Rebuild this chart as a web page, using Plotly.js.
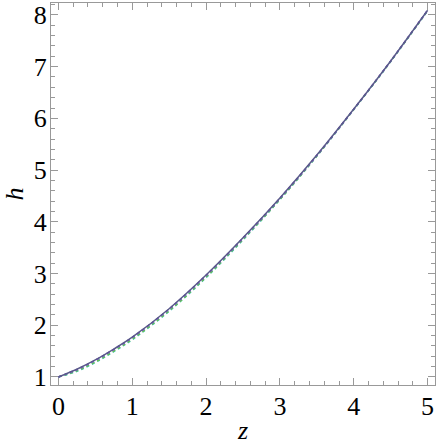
<!DOCTYPE html>
<html>
<head>
<meta charset="utf-8">
<script src="https://cdn.plot.ly/plotly-3.0.1.min.js"></script>
<style>body{margin:0;padding:0;background:#fff;} #chart{width:436px;height:445px;}</style>
</head>
<body>
<div id="chart"></div>
<script>
const zValues = [0, 0.25, 0.5, 0.75, 1, 1.5, 2, 2.5, 3, 3.5, 4, 4.5, 5];
const hSolid  = [1.00, 1.15, 1.33, 1.54, 1.77, 2.32, 2.97, 3.69, 4.46, 5.29, 6.18, 7.11, 8.09];
const hPurple = [1.00, 1.145,1.325,1.535,1.765,2.315,2.965,3.685,4.455,5.285,6.18, 7.11, 8.09];
const hBlue   = [1.00, 1.14, 1.32, 1.53, 1.76, 2.31, 2.96, 3.68, 4.45, 5.28, 6.175,7.105,8.09];
const hGreen  = [1.00, 1.12, 1.29, 1.50, 1.73, 2.28, 2.93, 3.66, 4.43, 5.27, 6.17, 7.10, 8.08];
const hCyan   = [1.00, 1.11, 1.28, 1.49, 1.72, 2.27, 2.92, 3.65, 4.43, 5.27, 6.17, 7.10, 8.08];
const xTicks = [0, 1, 2, 3, 4, 5];
const yTicks = [1, 2, 3, 4, 5, 6, 7, 8];

const series = [
  {y: hCyan,   color: '#3cc0c8', dash: 'dot'},
  {y: hGreen,  color: '#6cc04a', dash: 'dot'},
  {y: hBlue,   color: '#4a6fd0', dash: 'dot'},
  {y: hPurple, color: '#9050c0', dash: 'dot'},
  {y: hSolid,  color: '#5a5a8a', dash: 'solid'}
];
const traces = series.map(s => ({
  x: zValues, y: s.y, type: 'scatter', mode: 'lines',
  line: {color: s.color, width: 1.5, dash: s.dash, shape: 'spline'},
  hoverinfo: 'skip', showlegend: false
}));

const serif = 'Liberation Serif';
const axFont = {family: serif, size: 26, color: '#000'};
const layout = {
  width: 436, height: 445,
  margin: {l: 51, r: 1, t: 3, b: 60},
  paper_bgcolor: '#fff', plot_bgcolor: '#fff',
  showlegend: false,
  xaxis: {
    range: [-0.1, 5.1], tickvals: xTicks, ticktext: xTicks.map(String),
    ticks: 'inside', ticklen: 7, tickcolor: '#999', tickwidth: 1,
    showline: true, linecolor: '#999', linewidth: 1, mirror: 'ticks',
    showgrid: false, zeroline: false,
    tickfont: axFont, ticklabelstandoff: -2,
    minor: {dtick: 0.2, tick0: 0, ticks: 'inside', ticklen: 4, tickcolor: '#999', showgrid: false},
    title: {text: '<i>z</i>', font: {family: serif, size: 26, color: '#000'}, standoff: 2}
  },
  yaxis: {
    range: [0.845, 8.23], tickvals: yTicks, ticktext: yTicks.map(String),
    ticks: 'inside', ticklen: 7, tickcolor: '#999', tickwidth: 1,
    showline: true, linecolor: '#999', linewidth: 1, mirror: 'ticks',
    showgrid: false, zeroline: false,
    tickfont: axFont, ticklabelstandoff: -2,
    minor: {dtick: 0.2, tick0: 0, ticks: 'inside', ticklen: 4, tickcolor: '#999', showgrid: false},
    title: {text: '<i>h</i>', font: {family: serif, size: 26, color: '#000'}, standoff: 6}
  }
};
Plotly.newPlot('chart', traces, layout, {displayModeBar: false, staticPlot: true});
</script>
</body>
</html>
